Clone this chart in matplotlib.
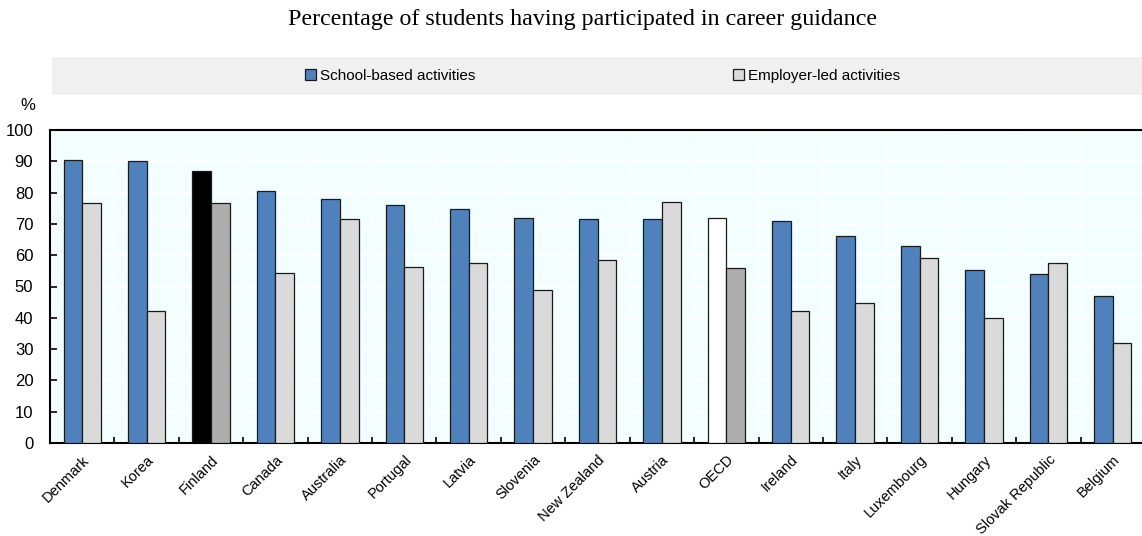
import matplotlib
matplotlib.use("Agg")
import matplotlib.pyplot as plt
from matplotlib.patches import Rectangle
import numpy as np

countries = ["Denmark", "Korea", "Finland", "Canada", "Australia", "Portugal", "Latvia",
             "Slovenia", "New Zealand", "Austria", "OECD", "Ireland", "Italy", "Luxembourg",
             "Hungary", "Slovak Republic", "Belgium"]
school_based = [90.4, 90.1, 87.0, 80.4, 78.1, 76.1, 74.9, 71.8, 71.6, 71.5, 71.8, 71.0,
                66.2, 62.9, 55.4, 54.0, 47.1]
employer_led = [76.8, 42.3, 76.8, 54.4, 71.6, 56.3, 57.6, 48.9, 58.5, 77.1, 56.0, 42.3,
                44.6, 59.0, 39.8, 57.6, 31.9]
yticks = [0, 10, 20, 30, 40, 50, 60, 70, 80, 90, 100]

title = "Percentage of students having participated in career guidance"
legend_labels = ["School-based activities", "Employer-led activities"]

BLUE = "#4F81BD"
LGRAY = "#DADADA"
DGRAY = "#ADADAD"

school_colors = []
employer_colors = []
for c in countries:
    if c == "Finland":
        school_colors.append("#000000"); employer_colors.append(DGRAY)
    elif c == "OECD":
        school_colors.append("#FFFFFF"); employer_colors.append(DGRAY)
    else:
        school_colors.append(BLUE); employer_colors.append(LGRAY)

W, H = 1142, 536
fig = plt.figure(figsize=(W / 100, H / 100), dpi=100)
plt.rcParams['font.family'] = ['Liberation Sans', 'DejaVu Sans']

ax = fig.add_axes([50 / W, 1 - 443 / H, 1095 / W, (443 - 130) / H])
ax.set_facecolor("#F2FEFF")

x = np.arange(len(countries))
bw = 0.29
ax.bar(x - bw / 2, school_based, bw, color=school_colors, edgecolor="#1a1a1a",
       linewidth=0.9, zorder=3, label=legend_labels[0])
ax.bar(x + bw / 2, employer_led, bw, color=employer_colors, edgecolor="#1a1a1a",
       linewidth=0.9, zorder=3, label=legend_labels[1])

ax.set_xlim(-0.5, len(countries) - 0.5)
ax.set_ylim(0, 100)
ax.set_yticks(yticks)
ax.set_yticklabels([str(v) for v in yticks], fontsize=12)
ax.set_xticks(x)
ax.set_xticklabels(countries, rotation=45, ha="right", rotation_mode="anchor", fontsize=10.5)
ax.set_xticks(x[:-1] + 0.5, minor=True)
ax.tick_params(axis="x", which="major", length=0, pad=7)
ax.tick_params(axis="x", which="minor", direction="in", length=4, width=1.2, color="black")
ax.tick_params(axis="y", which="major", direction="in", length=5, width=1.2, pad=12)

ax.grid(True, axis="y", color="white", linewidth=1.2, zorder=0)
ax.grid(True, axis="x", which="minor", color="white", linewidth=1.2, zorder=0)
ax.set_axisbelow(True)

for s in ["left", "top", "bottom"]:
    ax.spines[s].set_linewidth(1.5)
    ax.spines[s].set_color("black")
ax.spines["right"].set_visible(False)

fig.text(28 / W, 1 - 106 / H, "%", fontsize=12, ha="center", va="center")
fig.text(582 / W, 1 - 20 / H, title, fontsize=17.3, ha="center", va="center",
         family=["Liberation Serif", "DejaVu Serif"])

fig.patches.append(Rectangle((52 / W, 1 - 95 / H), (W - 52) / W, 38 / H,
                             transform=fig.transFigure, facecolor="#F0F0F0",
                             edgecolor="none", zorder=0))

leg_common = dict(frameon=False, fontsize=11, handlelength=0.7, handleheight=0.7,
                  handletextpad=0.3, borderpad=0, borderaxespad=0, loc="center left")
h1 = Rectangle((0, 0), 1, 1, facecolor=BLUE, edgecolor="#1a1a1a", linewidth=0.9)
h2 = Rectangle((0, 0), 1, 1, facecolor=LGRAY, edgecolor="#1a1a1a", linewidth=0.9)
fig.legend([h1], [legend_labels[0]], bbox_to_anchor=(305 / W, 1 - 76 / H), **leg_common)
fig.legend([h2], [legend_labels[1]], bbox_to_anchor=(733 / W, 1 - 76 / H), **leg_common)

fig.savefig("out.png", dpi=100)
